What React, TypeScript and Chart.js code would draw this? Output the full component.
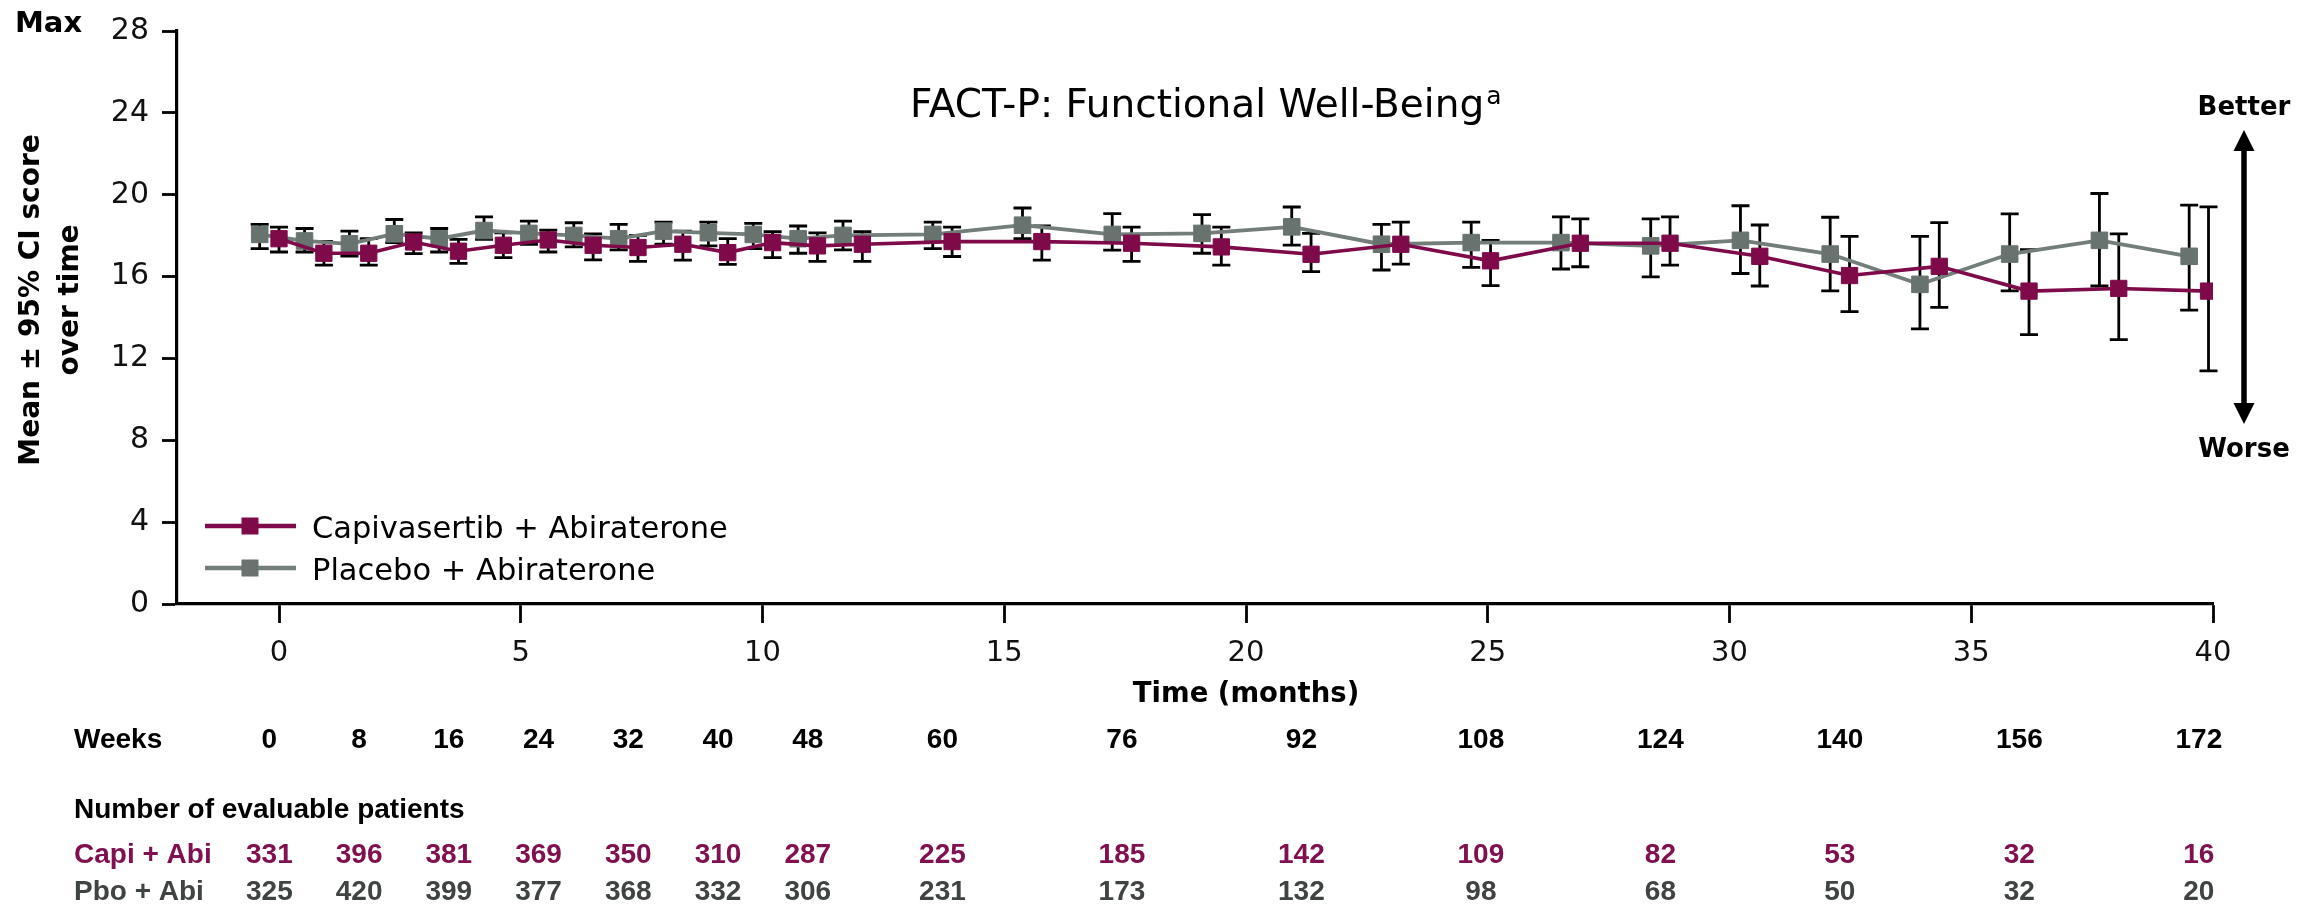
import { useEffect, useRef } from "react";
import { Chart, registerables } from "chart.js";

Chart.register(...registerables);

// ---- data ----
const assessmentWeeks = [0, 4, 8, 12, 16, 20, 24, 28, 32, 36, 40, 44, 48, 52, 60, 68, 76, 84, 92, 100, 108, 116, 124, 132, 140, 148, 156, 164, 172];

const capiMean = [17.85, 17.14, 17.14, 17.69, 17.24, 17.53, 17.79, 17.53, 17.42, 17.58, 17.17, 17.66, 17.5, 17.58, 17.71, 17.71, 17.63, 17.45, 17.09, 17.58, 16.77, 17.63, 17.63, 16.99, 16.05, 16.5, 15.29, 15.42, 15.29];
const capiLower = [17.2, 16.56, 16.56, 17.12, 16.64, 16.93, 17.2, 16.82, 16.74, 16.8, 16.6, 16.93, 16.74, 16.74, 16.98, 16.8, 16.74, 16.56, 16.24, 16.61, 15.56, 16.48, 16.56, 15.54, 14.29, 14.49, 13.16, 12.92, 11.39];
const capiUpper = [18.42, 17.72, 17.85, 18.14, 17.82, 18.14, 18.27, 18.09, 18.01, 18.22, 17.85, 18.19, 18.14, 18.19, 18.42, 18.47, 18.42, 18.42, 18.11, 18.66, 17.77, 18.82, 18.92, 18.52, 17.96, 18.64, 17.31, 18.09, 19.41];

const pboMean = [18.06, 17.74, 17.6, 18.09, 17.85, 18.25, 18.11, 18.01, 17.85, 18.22, 18.14, 18.06, 17.85, 18.01, 18.06, 18.51, 18.06, 18.11, 18.43, 17.58, 17.66, 17.66, 17.5, 17.77, 17.1, 15.62, 17.1, 17.77, 16.99];
const pboLower = [17.37, 17.2, 17.0, 17.66, 17.2, 17.82, 17.58, 17.45, 17.3, 17.58, 17.5, 17.37, 17.14, 17.3, 17.37, 17.85, 17.29, 17.14, 17.54, 16.32, 16.45, 16.37, 15.99, 16.15, 15.3, 13.44, 15.3, 15.54, 14.36];
const pboUpper = [18.55, 18.35, 18.22, 18.79, 18.35, 18.92, 18.71, 18.63, 18.55, 18.66, 18.66, 18.6, 18.47, 18.71, 18.66, 19.35, 19.08, 19.03, 19.4, 18.55, 18.66, 18.92, 18.82, 19.46, 18.9, 17.96, 19.06, 20.06, 19.49];

const tableWeeks = [0, 8, 16, 24, 32, 40, 48, 60, 76, 92, 108, 124, 140, 156, 172];
const capiN = [331, 396, 381, 369, 350, 310, 287, 225, 185, 142, 109, 82, 53, 32, 16];
const pboN = [325, 420, 399, 377, 368, 332, 306, 231, 173, 132, 98, 68, 50, 32, 20];

const xTickValues = [0, 5, 10, 15, 20, 25, 30, 35, 40];
const yTickValues = [0, 4, 8, 12, 16, 20, 24, 28];

const seriesLabels = ["Capivasertib + Abiraterone", "Placebo + Abiraterone"];
const rowLabels = ["Capi + Abi", "Pbo + Abi"];
const chartTitle = "FACT-P: Functional Well-Being";
const yTitleLines = ["Mean \u00b1 95% CI score", "over time"];

// ---- conversion / style ----
const WEEKS_PER_MONTH = 4.31;
const PBO_SHIFT = -0.4; // horizontal dodge of placebo series (months)
const TABLE_SHIFT = -0.2;

const CAPI_COLOR = "#7E0A4A";
const PBO_COLOR = "#68736F";
const PBO_LINE = "#737D7A";
const CAPI_TEXT = "#80104F";
const PBO_TEXT = "#3F4442";

const capiMonths = assessmentWeeks.map((w) => w / WEEKS_PER_MONTH);
const pboMonths = assessmentWeeks.map((w) => w / WEEKS_PER_MONTH + PBO_SHIFT);

const intervals = [
  { months: capiMonths, lower: capiLower, upper: capiUpper },
  { months: pboMonths, lower: pboLower, upper: pboUpper },
];

const errorBarsPlugin = {
  id: "errorBars",
  beforeDatasetsDraw(chart: any) {
    const { ctx } = chart;
    const xs = chart.scales.x;
    const ys = chart.scales.y;
    ctx.save();
    ctx.strokeStyle = "#000";
    ctx.lineWidth = 2.8;
    const cap = 9;
    intervals.forEach(({ months, lower, upper }) => {
      months.forEach((m, i) => {
        const px = xs.getPixelForValue(m);
        const pl = ys.getPixelForValue(lower[i]);
        const pu = ys.getPixelForValue(upper[i]);
        ctx.beginPath();
        ctx.moveTo(px, pu);
        ctx.lineTo(px, pl);
        ctx.moveTo(px - cap, pu);
        ctx.lineTo(px + cap, pu);
        ctx.moveTo(px - cap, pl);
        ctx.lineTo(px + cap, pl);
        ctx.stroke();
      });
    });
    ctx.restore();
  },
};

const annotationsPlugin = {
  id: "annotations",
  afterDraw(chart: any) {
    const { ctx } = chart;
    const xs = chart.scales.x;
    ctx.save();
    ctx.fillStyle = "#000";
    ctx.textBaseline = "alphabetic";

    // Max
    ctx.textAlign = "left";
    ctx.font = 'bold 29px "DejaVu Sans"';
    ctx.fillText("Max", 15, 32);

    // y title
    ctx.save();
    ctx.translate(0, 300);
    ctx.rotate(-Math.PI / 2);
    ctx.textAlign = "center";
    ctx.font = 'bold 28px "DejaVu Sans"';
    ctx.fillText(yTitleLines[0], 0, 39);
    ctx.fillText(yTitleLines[1], 0, 78);
    ctx.restore();

    // title
    ctx.textAlign = "left";
    ctx.font = '39px "DejaVu Sans"';
    ctx.fillText(chartTitle, 910, 117);
    const tw = ctx.measureText(chartTitle).width;
    ctx.font = '25px "DejaVu Sans"';
    ctx.fillText("a", 910 + tw + 2, 104);

    // Better / Worse arrow
    const ax = 2244;
    ctx.textAlign = "center";
    ctx.font = 'bold 26px "DejaVu Sans"';
    ctx.fillText("Better", ax, 115);
    ctx.fillText("Worse", ax, 457);
    ctx.strokeStyle = "#000";
    ctx.lineWidth = 5.5;
    ctx.beginPath();
    ctx.moveTo(ax, 145);
    ctx.lineTo(ax, 410);
    ctx.stroke();
    ctx.beginPath();
    ctx.moveTo(ax, 130);
    ctx.lineTo(ax - 10.5, 151);
    ctx.lineTo(ax + 10.5, 151);
    ctx.closePath();
    ctx.fill();
    ctx.beginPath();
    ctx.moveTo(ax, 424);
    ctx.lineTo(ax - 10.5, 403);
    ctx.lineTo(ax + 10.5, 403);
    ctx.closePath();
    ctx.fill();

    // legend
    const legendColors = [CAPI_COLOR, PBO_COLOR];
    const lineColors = [CAPI_COLOR, PBO_LINE];
    seriesLabels.forEach((label, i) => {
      const y = 526 + i * 42;
      ctx.strokeStyle = lineColors[i];
      ctx.lineWidth = 4.5;
      ctx.beginPath();
      ctx.moveTo(205, y);
      ctx.lineTo(296, y);
      ctx.stroke();
      ctx.fillStyle = legendColors[i];
      ctx.fillRect(250 - 8.5, y - 8.5, 17, 17);
      ctx.fillStyle = "#000";
      ctx.textAlign = "left";
      ctx.font = '30.5px "DejaVu Sans"';
      ctx.fillText(label, 312, y + 11.5);
    });

    // x title
    ctx.fillStyle = "#000";
    ctx.textAlign = "center";
    ctx.font = 'bold 27.5px "DejaVu Sans"';
    ctx.fillText("Time (months)", xs.getPixelForValue(20), 702);

    // table
    ctx.font = 'bold 28px "Liberation Sans"';
    ctx.textAlign = "left";
    ctx.fillStyle = "#000";
    ctx.fillText("Weeks", 74, 748);
    ctx.fillText("Number of evaluable patients", 74, 818);
    ctx.fillStyle = CAPI_TEXT;
    ctx.fillText(rowLabels[0], 74, 863);
    ctx.fillStyle = PBO_TEXT;
    ctx.fillText(rowLabels[1], 74, 900);
    ctx.textAlign = "center";
    tableWeeks.forEach((w, i) => {
      const px = xs.getPixelForValue(w / WEEKS_PER_MONTH + TABLE_SHIFT);
      ctx.fillStyle = "#000";
      ctx.fillText(String(w), px, 748);
      ctx.fillStyle = CAPI_TEXT;
      ctx.fillText(String(capiN[i]), px, 863);
      ctx.fillStyle = PBO_TEXT;
      ctx.fillText(String(pboN[i]), px, 900);
    });
    ctx.restore();
  },
};

function buildConfig(): any {
  return {
    type: "line",
    data: {
      datasets: [
        {
          label: seriesLabels[0],
          data: capiMonths.map((m, i) => ({ x: m, y: capiMean[i] })),
          borderColor: CAPI_COLOR,
          backgroundColor: CAPI_COLOR,
          borderWidth: 3.6,
          pointStyle: "rect",
          pointRadius: 11.5,
          pointBackgroundColor: CAPI_COLOR,
          pointBorderColor: CAPI_COLOR,
          pointBorderWidth: 1,
          tension: 0,
        },
        {
          label: seriesLabels[1],
          data: pboMonths.map((m, i) => ({ x: m, y: pboMean[i] })),
          borderColor: PBO_LINE,
          backgroundColor: PBO_COLOR,
          borderWidth: 3.8,
          pointStyle: "rect",
          pointRadius: 11.7,
          pointBackgroundColor: PBO_COLOR,
          pointBorderColor: PBO_COLOR,
          pointBorderWidth: 1,
          tension: 0,
        },
      ],
    },
    options: {
      responsive: false,
      animation: false,
      events: [],
      layout: { padding: { left: 0, right: 98, top: 26, bottom: 243 } },
      plugins: {
        legend: { display: false },
        tooltip: { enabled: false },
        title: { display: false },
      },
      scales: {
        x: {
          type: "linear",
          min: -2.11,
          max: 40,
          afterFit: (s: any) => {
            s.height = 60;
          },
          afterBuildTicks: (s: any) => {
            s.ticks = xTickValues.map((v) => ({ value: v }));
          },
          grid: {
            display: true,
            drawOnChartArea: false,
            drawTicks: true,
            tickLength: 19,
            tickWidth: 2.8,
            tickColor: "#000",
          },
          border: { display: true, color: "#000", width: 3.2 },
          ticks: {
            font: { family: "DejaVu Sans", size: 29 },
            color: "#111",
            padding: 13,
            maxRotation: 0,
            autoSkip: false,
          },
        },
        y: {
          type: "linear",
          min: 0,
          max: 28,
          afterFit: (s: any) => {
            s.width = 177;
          },
          afterBuildTicks: (s: any) => {
            s.ticks = yTickValues.map((v) => ({ value: v }));
          },
          grid: {
            display: true,
            drawOnChartArea: false,
            drawTicks: true,
            tickLength: 15,
            tickWidth: 2.8,
            tickColor: "#000",
          },
          border: { display: true, color: "#000", width: 3.2 },
          ticks: {
            font: { family: "DejaVu Sans", size: 30 },
            color: "#111",
            padding: 13,
            autoSkip: false,
          },
        },
      },
    },
    plugins: [errorBarsPlugin, annotationsPlugin],
  };
}

export default function App() {
  const ref = useRef<HTMLCanvasElement>(null);
  useEffect(() => {
    let chart: Chart | null = null;
    let cancelled = false;
    const make = () => {
      if (cancelled || !ref.current) return;
      chart = new Chart(ref.current, buildConfig());
    };
    const fontSpecs = [
      '29px "DejaVu Sans"',
      'bold 28px "DejaVu Sans"',
      'bold 28px "Liberation Sans"',
    ];
    const fonts: any = (document as any).fonts;
    if (fonts && fonts.load) {
      Promise.all(fontSpecs.map((f) => fonts.load(f))).then(make, make);
    } else {
      make();
    }
    return () => {
      cancelled = true;
      if (chart) chart.destroy();
    };
  }, []);
  return (
    <div style={{ position: "absolute", left: 0, top: 0, width: 2311, height: 907, background: "#fff" }}>
      <canvas ref={ref} width={2311} height={907} style={{ display: "block", width: 2311, height: 907 }} />
    </div>
  );
}
